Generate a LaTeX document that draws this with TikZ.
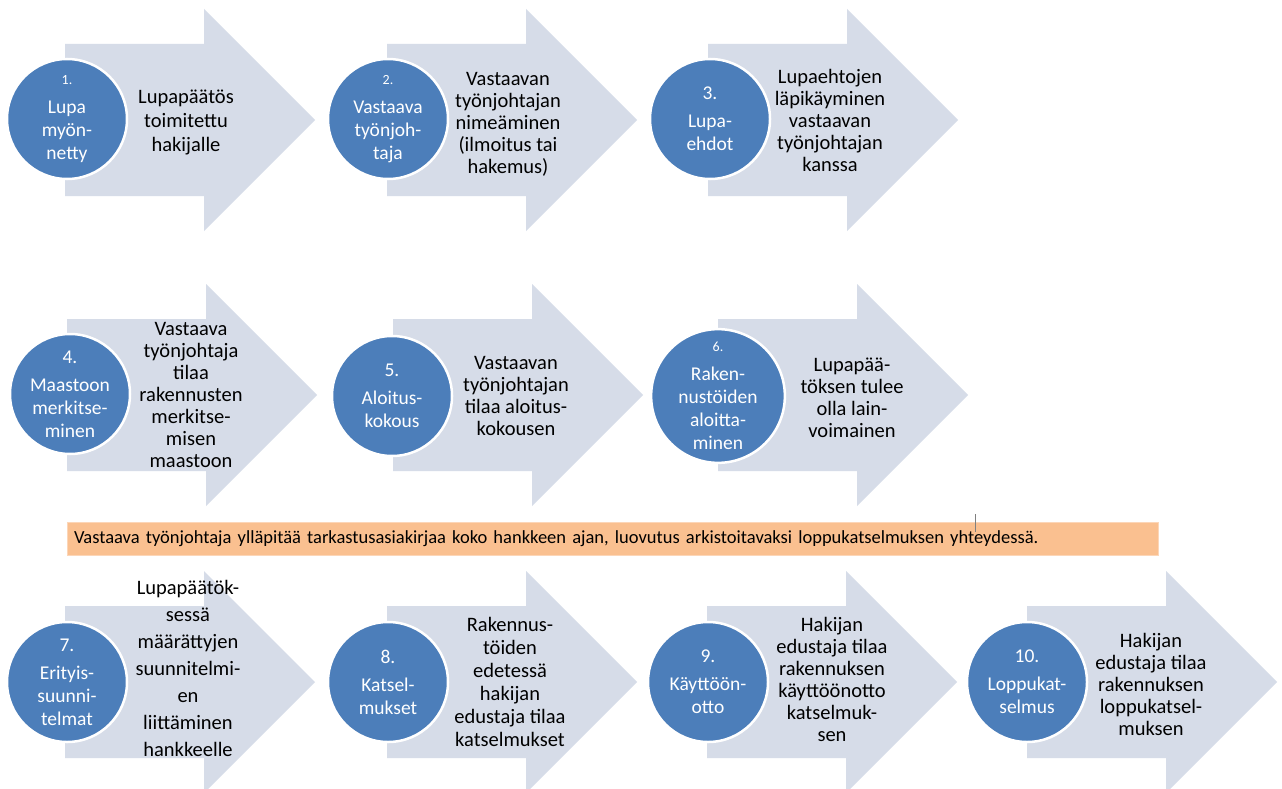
\documentclass[tikz,border=0pt]{standalone}
\usepackage{fontspec}
\setmainfont{Carlito}
\usepackage{tikz}
\definecolor{arrowfill}{RGB}{214,220,232}
\definecolor{circblue}{RGB}{76,126,186}
\definecolor{barorange}{RGB}{250,192,144}
\definecolor{barline}{RGB}{252,214,184}
\tikzset{
  steparrow/.style={fill=arrowfill},
  stepcircle/.style={circle,fill=circblue,draw=white,line width=2.5pt,minimum size=120pt,inner sep=0pt,
    text=white,align=center,font=\fontsize{19.5}{23}\selectfont},
  steptext/.style={align=center,inner sep=0pt,font=\fontsize{20.5}{#1}\selectfont},
  steptext/.default=22,
  infobar/.style={fill=barorange,draw=barline,line width=0.8pt,minimum height=33pt,
    text width=1077pt,inner sep=7pt,align=left,font=\fontsize{18.5}{20}\selectfont}
}
\newcommand{\bignr}[1]{#1\\[5pt]}
\newcommand{\smallnr}[1]{{\fontsize{14}{16}\selectfont #1}\\[6pt]}
\begin{document}
\begin{tikzpicture}[x=1pt,y=-1pt]
\useasboundingbox (0,0) rectangle (1282,789);
\fill[white] (0,0) rectangle (1282,789);
% arrows
\foreach \x/\y in {65/120,387/120,708/120,67/395,393/395,718/395,65/682,387/682,707/682,1027/682}
  \fill[steparrow] (\x,\y-76) -- (\x+139,\y-76) -- (\x+139,\y-111) -- (\x+250,\y)
    -- (\x+139,\y+111) -- (\x+139,\y+76) -- (\x,\y+76) -- cycle;
% row 1
\node[stepcircle] (c1) at (67,119) {\smallnr{1.}Lupa\\myön-\\netty};
\node[steptext=24] (t1) at (186,122) {Lupapäätös\\toimitettu\\hakijalle};
\node[stepcircle] (c2) at (388,119) {\smallnr{2.}Vastaava\\työnjoh-\\taja};
\node[steptext] (t2) at (508,124) {Vastaavan\\työnjohtajan\\nimeäminen\\(ilmoitus tai\\hakemus)};
\node[stepcircle] (c3) at (710,119) {\bignr{3.}Lupa-\\ehdot};
\node[steptext] (t3) at (830,120) {Lupaehtojen\\läpikäyminen\\vastaavan\\työnjohtajan\\kanssa};
% row 2
\node[stepcircle] (c4) at (70,394) {\bignr{4.}Maastoon\\merkitse-\\minen};
\node[steptext] (t4) at (191,395) {Vastaava\\työnjohtaja\\tilaa\\rakennusten\\merkitse-\\misen\\maastoon};
\node[stepcircle] (c5) at (392,396) {\bignr{5.}Aloitus-\\kokous};
\node[steptext] (t5) at (516,396) {Vastaavan\\työnjohtajan\\tilaa aloitus-\\kokousen};
\node[stepcircle] (c6) at (718,396) {\smallnr{6.}Raken-\\nustöiden\\aloitta-\\minen};
\node[steptext] (t6) at (852,398) {Lupapää-\\töksen tulee\\olla lain-\\voimainen};
% bar
\node[infobar] (bar) at (612.5,538.5) {Vastaava työnjohtaja ylläpitää tarkastusasiakirjaa koko hankkeen ajan, luovutus arkistoitavaksi loppukatselmuksen yhteydessä.};
\draw[gray,line width=0.8pt] (975,514) -- (975,532);
% row 3
\node[stepcircle] (c7) at (67,682) {\bignr{7.}Erityis-\\suunni-\\telmat};
\node[steptext=27] (t7) at (188,668) {Lupapäätök-\\sessä\\määrättyjen\\suunnitelmi-\\en\\liittäminen\\hankkeelle};
\node[stepcircle] (c8) at (388,682) {\bignr{8.}Katsel-\\mukset};
\node[steptext=23] (t8) at (510,682) {Rakennus-\\töiden\\edetessä\\hakijan\\edustaja tilaa\\katselmukset};
\node[stepcircle] (c9) at (708,682) {\bignr{9.}Käyttöön-\\otto};
\node[steptext] (t9) at (832,679) {Hakijan\\edustaja tilaa\\rakennuksen\\käyttöönotto\\katselmuk-\\sen};
\node[stepcircle] (c10) at (1027,682) {\bignr{10.}Loppukat-\\selmus};
\node[steptext] (t10) at (1151,684) {Hakijan\\edustaja tilaa\\rakennuksen\\loppukatsel-\\muksen};
\end{tikzpicture}
\end{document}
